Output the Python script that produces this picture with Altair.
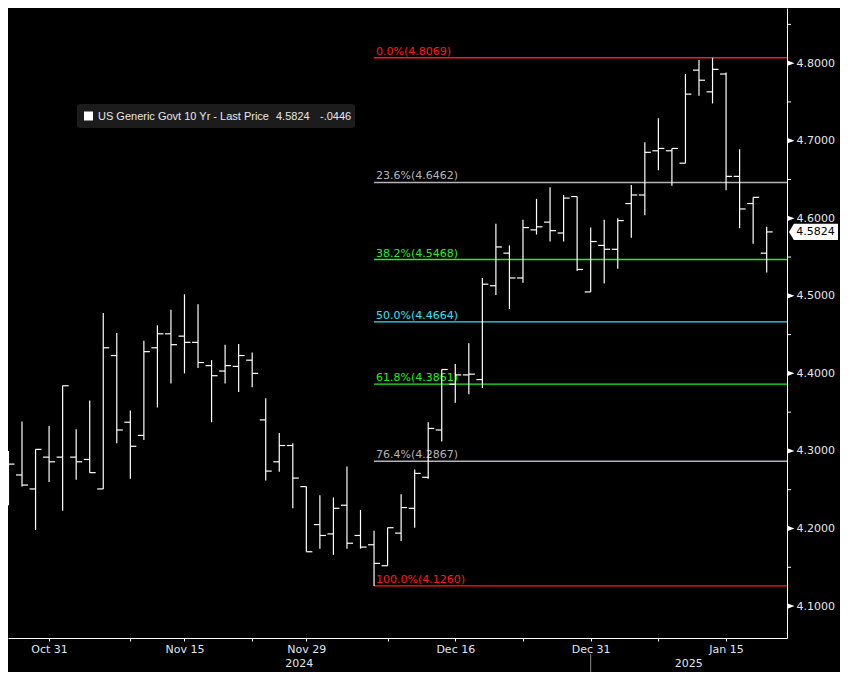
import altair as alt
import pandas as pd

# ---------------- data ----------------
dates = [
    "2024-10-28", "2024-10-29", "2024-10-30", "2024-10-31", "2024-11-01",
    "2024-11-04", "2024-11-05", "2024-11-06", "2024-11-07", "2024-11-08",
    "2024-11-12", "2024-11-13", "2024-11-14", "2024-11-15", "2024-11-18",
    "2024-11-19", "2024-11-20", "2024-11-21", "2024-11-22", "2024-11-25",
    "2024-11-26", "2024-11-27", "2024-11-29", "2024-12-02", "2024-12-03",
    "2024-12-04", "2024-12-05", "2024-12-06", "2024-12-09", "2024-12-10",
    "2024-12-11", "2024-12-12", "2024-12-13", "2024-12-16", "2024-12-17",
    "2024-12-18", "2024-12-19", "2024-12-20", "2024-12-23", "2024-12-24",
    "2024-12-26", "2024-12-27", "2024-12-30", "2024-12-31", "2025-01-02",
    "2025-01-03", "2025-01-06", "2025-01-07", "2025-01-08", "2025-01-09",
    "2025-01-10", "2025-01-13", "2025-01-14", "2025-01-15", "2025-01-16",
    "2025-01-17", "2025-01-21",
]
opens = [
    4.240, 4.269, 4.251, 4.292, 4.292, 4.292, 4.289, 4.251, 4.423, 4.337,
    4.320, 4.433, 4.451, 4.448, 4.440, 4.410, 4.403, 4.409, 4.417, 4.340,
    4.286, 4.307, 4.254, 4.205, 4.193, 4.230, 4.191, 4.179, 4.152, 4.194,
    4.226, 4.266, 4.327, 4.386, 4.398, 4.392, 4.513, 4.555, 4.523, 4.585,
    4.595, 4.581, 4.628, 4.505, 4.565, 4.560, 4.619, 4.630, 4.687, 4.687,
    4.671, 4.791, 4.763, 4.786, 4.654, 4.619, 4.555,
]
highs = [
    4.300, 4.338, 4.302, 4.332, 4.384, 4.328, 4.365, 4.478, 4.452, 4.352,
    4.442, 4.462, 4.482, 4.502, 4.489, 4.417, 4.437, 4.438, 4.427, 4.368,
    4.323, 4.310, 4.254, 4.243, 4.240, 4.280, 4.224, 4.197, 4.201, 4.244,
    4.276, 4.337, 4.405, 4.412, 4.439, 4.523, 4.593, 4.565, 4.598, 4.625,
    4.640, 4.630, 4.628, 4.588, 4.598, 4.600, 4.643, 4.698, 4.729, 4.690,
    4.786, 4.804, 4.8069, 4.788, 4.689, 4.627, 4.589,
]
lows = [
    4.230, 4.254, 4.198, 4.260, 4.223, 4.263, 4.272, 4.251, 4.310, 4.264,
    4.314, 4.356, 4.387, 4.400, 4.407, 4.337, 4.387, 4.376, 4.382, 4.262,
    4.273, 4.226, 4.170, 4.174, 4.166, 4.174, 4.174, 4.126, 4.152, 4.184,
    4.201, 4.264, 4.312, 4.362, 4.373, 4.381, 4.501, 4.483, 4.517, 4.579,
    4.570, 4.570, 4.532, 4.505, 4.516, 4.535, 4.575, 4.604, 4.662, 4.642,
    4.671, 4.758, 4.748, 4.636, 4.587, 4.567, 4.530,
]
closes = [
    4.283, 4.256, 4.302, 4.286, 4.384, 4.286, 4.272, 4.433, 4.327, 4.306,
    4.428, 4.451, 4.437, 4.440, 4.414, 4.397, 4.410, 4.423, 4.400, 4.274,
    4.307, 4.265, 4.170, 4.191, 4.226, 4.181, 4.176, 4.155, 4.201, 4.227,
    4.271, 4.329, 4.405, 4.398, 4.399, 4.515, 4.563, 4.523, 4.588, 4.589,
    4.584, 4.626, 4.534, 4.570, 4.560, 4.597, 4.630, 4.685, 4.690, 4.690,
    4.760, 4.778, 4.792, 4.654, 4.612, 4.627, 4.5824,
]

fib_pcts = ["0.0%", "23.6%", "38.2%", "50.0%", "61.8%", "76.4%", "100.0%"]
fib_levels = [4.8069, 4.6462, 4.5468, 4.4664, 4.3861, 4.2867, 4.1260]
fib_colors = ["#ff1a1a", "#b4b4b8", "#2ee82e", "#33e0f5", "#1cf01c", "#b4b4b8", "#ff1a1a"]
fib_anchor_date = "2024-12-06"

y_tick_values = [4.1, 4.2, 4.3, 4.4, 4.5, 4.6, 4.7, 4.8]
y_minor_values = [4.15, 4.25, 4.35, 4.45, 4.55, 4.65, 4.75, 4.85]
x_label_dates = ["2024-10-31", "2024-11-15", "2024-11-29", "2024-12-16", "2024-12-31", "2025-01-15"]
x_minor_dates = ["2024-11-08", "2024-11-22", "2024-12-09", "2024-12-23", "2025-01-08"]
year_labels = ["2024", "2025"]
year_break_date = "2024-12-31"

series_name = "US Generic Govt 10 Yr - Last Price"
last_price = 4.5824
net_change = "-.0446"

# ---------------- layout ----------------
W, H = 779, 630
X_DOMAIN = [-0.035, 57.5]
Y_DOMAIN = [4.0588, 4.8711]
FONT = "DejaVu Sans"

idx = {d: i for i, d in enumerate(dates)}
df = pd.DataFrame({"i": list(range(len(dates))), "date": dates, "open": opens,
                   "high": highs, "low": lows, "close": closes})

label_idx = [idx[d] for d in x_label_dates]
tick_idx = sorted(label_idx + [idx[d] for d in x_minor_dates])
label_txt = [pd.Timestamp(d).strftime("%b %d") for d in x_label_dates]
expr = "''"
for k, t in reversed(list(zip(label_idx, label_txt))):
    expr = f"datum.value == {k} ? '{t}' : {expr}"

xs = alt.Scale(domain=X_DOMAIN, nice=False, zero=False)
ys = alt.Scale(domain=Y_DOMAIN, nice=False, zero=False)
xa = alt.Axis(values=tick_idx, labelExpr=expr, title=None, grid=False,
              domainColor="#ffffff", domainWidth=1, tickColor="#ffffff",
              tickSize=3, tickWidth=1, labelColor="#dfe6f2", labelFont=FONT,
              labelFontSize=11, labelPadding=2, labelOverlap=False,
              labelFlush=False, labelBound=False)
ya = alt.Axis(orient="right", values=y_tick_values, format=".4f", title=None,
              grid=False, domainColor="#ffffff", domainWidth=1, ticks=False,
              labelColor="#e6e6e6", labelFont=FONT, labelFontSize=11,
              labelPadding=9, labelOverlap=False, labelFlush=False)


def X(f):
    return alt.X(f, type="quantitative", scale=xs, axis=xa)


def Y(f):
    return alt.Y(f, type="quantitative", scale=ys, axis=ya)


# ---------------- fibonacci ----------------
anchor = idx[fib_anchor_date]
fib_df = pd.DataFrame({
    "v": fib_levels,
    "x0": [anchor] * len(fib_levels),
    "label": [f"{p}({v:.4f})" for p, v in zip(fib_pcts, fib_levels)],
    "col": fib_colors,
})
fib_lines = alt.Chart(fib_df).mark_rule(strokeWidth=1.4).encode(
    x=X("x0"), x2=alt.value(W), y=Y("v"), color=alt.Color("col:N", scale=None))
fib_text = alt.Chart(fib_df).mark_text(
    align="left", baseline="alphabetic", dx=2, dy=-3, font=FONT, fontSize=11
).encode(x=X("x0"), y=Y("v"), text="label:N", color=alt.Color("col:N", scale=None))

# ---------------- OHLC bars ----------------
base = alt.Chart(df)
hl = base.mark_rule(color="#ffffff", strokeWidth=1.2).encode(
    x=X("i"), y=Y("low"), y2=alt.Y2("high"))
op = base.mark_rule(color="#ffffff", strokeWidth=1.2, xOffset=-6).encode(
    x=X("i"), x2=alt.X2("i"), y=Y("open"))
cl = base.mark_rule(color="#ffffff", strokeWidth=1.2, x2Offset=6).encode(
    x=X("i"), x2=alt.X2("i"), y=Y("close"))

# ---------------- right axis decorations ----------------
minor_df = pd.DataFrame({"v": y_minor_values})
minor = alt.Chart(minor_df).mark_rule(color="#ffffff", strokeWidth=1).encode(
    x=alt.value(W), x2=alt.value(W + 4), y=Y("v"))
major_df = pd.DataFrame({"v": y_tick_values})
arrows = alt.Chart(major_df).mark_point(
    shape="M-1,-0.75L1,0L-1,0.75Z", filled=True, size=49, color="#ffffff", opacity=1
).encode(x=alt.value(W + 4), y=Y("v"))

tag_df = pd.DataFrame({"v": [last_price], "t": [f"{last_price:.4f}"]})
tag = alt.Chart(tag_df).mark_point(
    shape="M-1,0L-0.8,-0.33L1,-0.33L1,0.33L-0.8,0.33Z", filled=True, size=2401,
    color="#ffffff", opacity=1, strokeWidth=0
).encode(x=alt.value(W + 26.5), y=Y("v"))
tag_text = alt.Chart(tag_df).mark_text(
    align="center", baseline="middle", font=FONT, fontSize=11, color="#000000"
).encode(x=alt.value(W + 28.5), y=Y("v"), text="t:N")

# ---------------- bottom axis: years ----------------
brk = idx[year_break_date]
year_df = pd.DataFrame({"x": [(X_DOMAIN[0] + brk) / 2, (brk + X_DOMAIN[1]) / 2],
                        "t": year_labels})
years = alt.Chart(year_df).mark_text(
    align="center", baseline="middle", font=FONT, fontSize=11, color="#dfe6f2"
).encode(x=X("x"), y=alt.value(H + 26), text="t:N")
brk_df = pd.DataFrame({"x": [brk]})
year_rule = alt.Chart(brk_df).mark_rule(color="#8a8a8a", strokeWidth=1).encode(
    x=X("x"), y=alt.value(H + 16), y2=alt.value(H + 34))

# ---------------- legend box ----------------
one = pd.DataFrame({"a": [0]})
box = alt.Chart(one).mark_rect(color="#1c1c1c", cornerRadius=3).encode(
    x=alt.value(69), x2=alt.value(347), y=alt.value(96), y2=alt.value(120))
square = alt.Chart(one).mark_rect(color="#ffffff").encode(
    x=alt.value(76), x2=alt.value(85), y=alt.value(103.5), y2=alt.value(112.5))
leg_df = pd.DataFrame({"t": [series_name, f"{last_price:.4f}", net_change],
                       "px": [90, 268, 312]})
leg_text = alt.Chart(leg_df).mark_text(
    align="left", baseline="middle", font="Liberation Sans", fontSize=11, color="#e8e8e8"
).encode(x=alt.X("px:Q", scale=None), y=alt.value(108.5), text="t:N")

chart = alt.layer(
    fib_lines, fib_text, hl, op, cl, minor, arrows, year_rule, years,
    box, square, leg_text, tag, tag_text
).properties(
    width=W, height=H,
    autosize=alt.AutoSizeParams(type="none"),
    padding={"left": 0, "top": 0, "right": 53, "bottom": 34},
    background="#000000",
).configure_view(stroke=None)

chart.save("out.html", embed_options={"renderer": "svg", "actions": False})
